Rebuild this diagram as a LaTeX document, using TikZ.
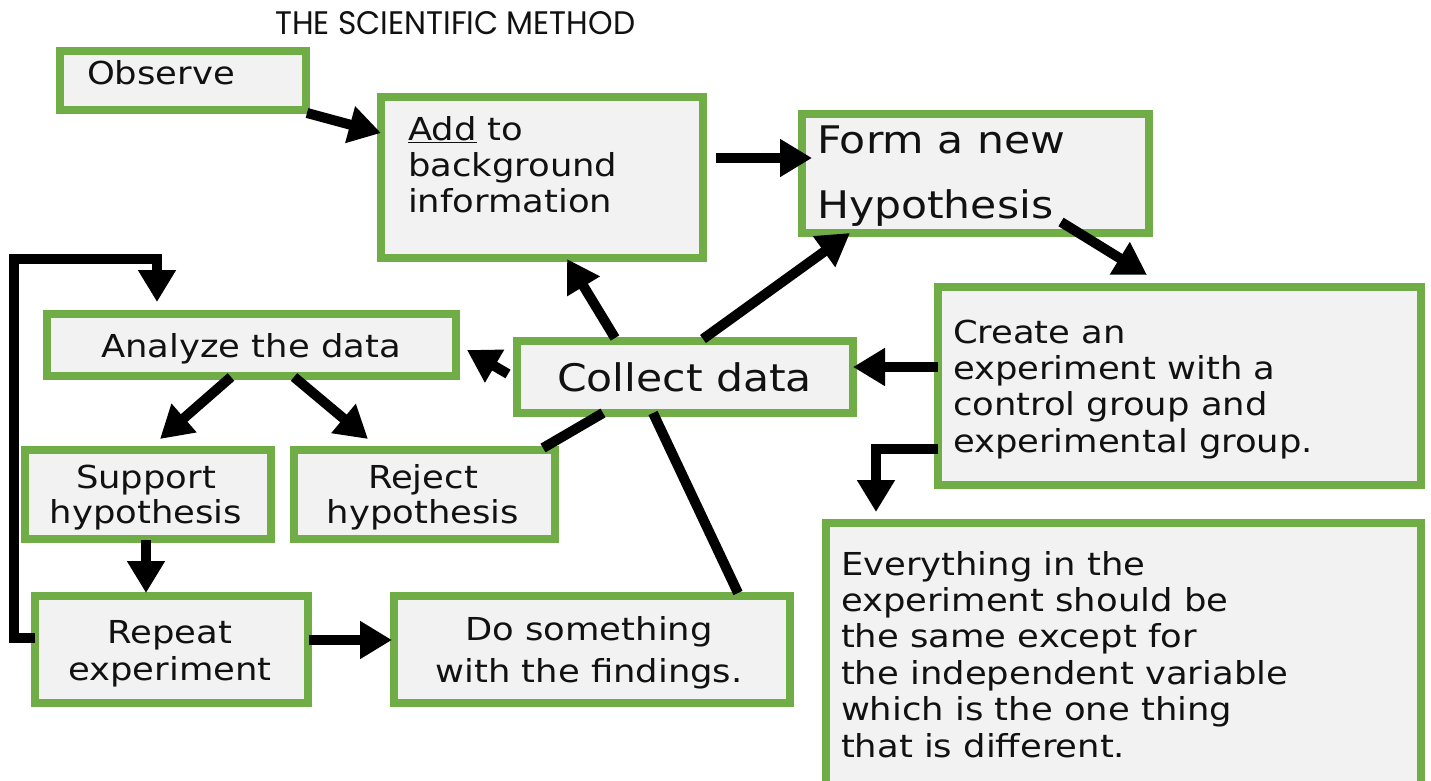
\documentclass[tikz,border=0pt]{standalone}
\usepackage{fontspec}
\usepackage{graphicx}
\setmainfont[FakeStretch=1.12]{DejaVu Sans}
\newfontfamily\titlefont{Poppins}
\usetikzlibrary{arrows.meta,calc}

\definecolor{boxgreen}{HTML}{70AD47}
\definecolor{boxfill}{HTML}{F2F2F2}
\definecolor{ink}{HTML}{111111}

% text sizes used in the chart
\newcommand{\txtN}{\fontsize{31.6}{36.3}\selectfont}
\newcommand{\txtL}{\fontsize{38}{65}\selectfont}

% multi-line texts are placed by the baseline of their last line
\tikzset{
  box/.style={draw=boxgreen, fill=boxfill, line width=8pt, outer sep=0pt, inner sep=0pt},
  lbl/.style={text=ink, inner sep=0pt, outer sep=0pt, anchor=base west, align=left},
  clbl/.style={text=ink, inner sep=0pt, outer sep=0pt, anchor=base, align=center},
  flow/.style={line width=10pt, draw=black, line join=miter, -{Triangle[length=32pt,width=36pt]}},
  link/.style={line width=10pt, draw=black},
}

\begin{document}
\begin{tikzpicture}[x=1pt,y=-1pt]
\useasboundingbox (0,0) rectangle (1431,781);
\clip (0,0) rectangle (1431,781);

% title
\node[anchor=base west, inner sep=0pt, text=ink] (title) at (275,35)
  {\resizebox{360pt}{23pt}{\titlefont THE SCIENTIFIC METHOD}};

% boxes
\node[box, minimum width=246pt, minimum height=59pt]  (obs)     at (183,80.5)   {};
\node[box, minimum width=322pt, minimum height=161pt] (add)     at (542,177.5)  {};
\node[box, minimum width=347pt, minimum height=119pt] (form)    at (975.5,173.5){};
\node[box, minimum width=483pt, minimum height=198pt] (create)  at (1179.5,386) {};
\node[box, minimum width=336pt, minimum height=72pt]  (collect) at (685,377)    {};
\node[box, minimum width=409pt, minimum height=62pt]  (analyze) at (251.5,345)  {};
\node[box, minimum width=246pt, minimum height=89pt]  (support) at (148,494.5)  {};
\node[box, minimum width=261pt, minimum height=89pt]  (reject)  at (424.5,494.5){};
\node[box, minimum width=273pt, minimum height=107pt] (repeat)  at (171.5,649.5){};
\node[box, minimum width=396pt, minimum height=107pt] (dosome)  at (592,649.5)  {};
\node[box, minimum width=595pt, minimum height=303pt] (every)   at (1123.5,674.5){};

% box texts
\node[lbl, font=\txtN] (tobs) at (87,85) {Observe};
\node[lbl, font=\fontsize{31.6}{36}\selectfont] (tadd) at (408,212)
  {\underline{Add} to\\background\\information};
\node[lbl, font=\txtL] (tform) at (817,218) {Form a new\\Hypothesis};
\node[lbl, font=\fontsize{31.6}{36.3}\selectfont] (tcreate) at (953,452)
  {Create an\\experiment with a\\control group and\\experimental group.};
\node[lbl, font=\fontsize{38}{40}\selectfont] (tcollect) at (557,391) {Collect data};
\node[lbl, font=\txtN] (tanalyze) at (101,357) {Analyze the data};
\node[clbl, font=\fontsize{31.6}{35}\selectfont] (tsupport) at (146,523) {Support\\hypothesis};
\node[clbl, font=\fontsize{31.6}{35}\selectfont] (treject) at (423,523) {Reject\\hypothesis};
\node[clbl, font=\fontsize{31.6}{37}\selectfont] (trepeat) at (170,680) {Repeat\\experiment};
\node[clbl, font=\fontsize{31.6}{42}\selectfont] (tdosome) at (589,682) {Do something\\with the findings.};
\node[lbl, font=\fontsize{31.6}{36.4}\selectfont] (tevery) at (841,757)
  {Everything in the\\experiment should be\\the same except for\\the independent variable\\which is the one thing\\that is different.};

% connectors
\draw[flow] ($(obs.south east)+(1,3)$) -- ($(add.north west)+(0,36)$);
\draw[flow] ($(add.east)+(13,-19.5)$) -- ($(form.west)+(10,-15.5)$);
\draw[flow] ($(form.south)+(85.5,-11)$) -- ($(create.north)+(-32.5,-12)$);
\draw[flow] ($(create.west)+(0,-19)$) -- ($(collect.east)+(0,-10)$);
\draw[flow] ($(create.west)+(0,63)$) -| ($(every.north west)+(50,-11)$);
\draw[flow] ($(collect.north)+(-70,-3)$) -- ($(add.south)+(25,1)$);
\draw[flow] ($(collect.north)+(18,-2)$) -- ($(form.south west)+(48,0)$);
\draw[flow] ($(collect.west)+(-9,-3)$) -- ($(analyze.east)+(11,5)$);
\draw[flow] ($(analyze.south)+(-20.5,1)$) -- ($(support.north)+(12,-11)$);
\draw[flow] ($(analyze.south)+(42.5,1)$) -- ($(reject.north)+(-56.5,-11)$);
\draw[flow] ($(support.south)+(-2,1)$) -- ($(repeat.north)+(-25.5,-3)$);
\draw[flow] ($(repeat.east)+(1,-9.5)$) -- ($(dosome.west)+(-2,-9.5)$);
\draw[flow] ($(repeat.west)+(0,-11.5)$) -- ++(-21,0)
  |- ($(analyze.north)+(-94.5,-55)$) -- ($(analyze.north)+(-94.5,-12)$);
\draw[link] ($(reject.north east)+(-12,-2)$) -- ($(collect.south)+(-82,0)$);
\draw[link] ($(dosome.north)+(146,-3)$) -- ($(collect.south)+(-32,0)$);
\end{tikzpicture}
\end{document}
